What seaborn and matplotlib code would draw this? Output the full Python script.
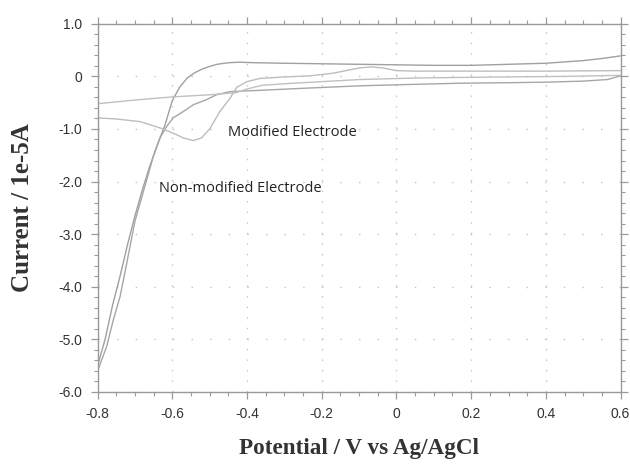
import numpy as np
import pandas as pd
import matplotlib
matplotlib.use("Agg")
import matplotlib.pyplot as plt
from matplotlib.ticker import MultipleLocator, FuncFormatter
import seaborn as sns

# Non-modified electrode, forward sweep (up to plateau)
nm_fwd_x = [-0.80, -0.78, -0.76, -0.74, -0.72, -0.70, -0.68, -0.66, -0.64, -0.62, -0.60, -0.58,
            -0.56, -0.54, -0.52, -0.50, -0.48, -0.45, -0.42, -0.38, -0.30, -0.20, -0.10, 0.00,
            0.10, 0.20, 0.30, 0.40, 0.50, 0.55, 0.60]
nm_fwd_y = [-5.50, -5.00, -4.35, -3.80, -3.20, -2.65, -2.15, -1.70, -1.30, -0.93, -0.46, -0.20,
            -0.03, 0.07, 0.14, 0.19, 0.23, 0.26, 0.27, 0.26, 0.25, 0.24, 0.23, 0.22,
            0.21, 0.21, 0.23, 0.25, 0.30, 0.34, 0.39]
# Non-modified electrode, reverse sweep
nm_rev_x = [0.60, 0.565, 0.50, 0.40, 0.30, 0.17, 0.00, -0.10, -0.26, -0.35, -0.446, -0.482,
            -0.508, -0.544, -0.571, -0.598, -0.615, -0.633, -0.65, -0.67, -0.70, -0.722,
            -0.74, -0.758, -0.776, -0.80]
nm_rev_y = [0.01, -0.06, -0.09, -0.11, -0.12, -0.13, -0.16, -0.18, -0.23, -0.26, -0.29, -0.35,
            -0.44, -0.54, -0.67, -0.79, -0.95, -1.17, -1.50, -2.00, -2.75, -3.55,
            -4.19, -4.63, -5.14, -5.60]
# Modified electrode, forward sweep
m_fwd_x = [-0.80, -0.70, -0.60, -0.50, -0.43, -0.40, -0.36, -0.30, -0.25, -0.20, -0.10, 0.06,
           0.17, 0.30, 0.45, 0.60]
m_fwd_y = [-0.52, -0.45, -0.39, -0.35, -0.31, -0.24, -0.17, -0.14, -0.12, -0.10, -0.06, -0.03,
           -0.02, -0.01, 0.00, 0.02]
# Modified electrode, reverse sweep (with oxidation bump and reduction peak)
m_rev_x = [0.60, 0.40, 0.17, 0.05, 0.00, -0.036, -0.067, -0.10, -0.17, -0.232, -0.30, -0.366,
           -0.40, -0.428, -0.446, -0.473, -0.50, -0.522, -0.544, -0.571, -0.598, -0.633,
           -0.687, -0.75, -0.80]
m_rev_y = [0.11, 0.10, 0.10, 0.10, 0.11, 0.16, 0.18, 0.16, 0.06, 0.01, -0.01, -0.04,
           -0.10, -0.21, -0.42, -0.67, -1.00, -1.17, -1.22, -1.17, -1.08, -0.98,
           -0.86, -0.81, -0.79]

xticks = [-0.8, -0.6, -0.4, -0.2, 0, 0.2, 0.4, 0.6]
yticks = [1.0, 0, -1.0, -2.0, -3.0, -4.0, -5.0, -6.0]

curves = [("nm_fwd", nm_fwd_x, nm_fwd_y), ("nm_rev", nm_rev_x, nm_rev_y),
          ("m_fwd", m_fwd_x, m_fwd_y), ("m_rev", m_rev_x, m_rev_y)]
df = pd.concat([pd.DataFrame({"curve": n, "x": x, "y": y})
                for n, x, y in curves], ignore_index=True)
palette = {"nm_fwd": "#a0a0a0", "nm_rev": "#a6a6a6", "m_fwd": "#c0c0c0", "m_rev": "#bdbdbd"}

sns.set_theme(style="white")
plt.rcParams['font.family'] = ['Liberation Sans', 'DejaVu Sans']

fig = plt.figure(figsize=(6.3, 4.67), dpi=100)
ax = fig.add_axes([0.155, 0.161, 0.830, 0.788])

sns.lineplot(data=df, x="x", y="y", hue="curve", units="curve", estimator=None,
             sort=False, palette=palette, linewidth=1.0, legend=False, ax=ax)

ax.set_xlim(-0.8, 0.6)
ax.set_ylim(-6.0, 1.0)
ax.set_xticks(xticks)
ax.set_yticks(yticks)
ax.xaxis.set_minor_locator(MultipleLocator(0.05))
ax.yaxis.set_minor_locator(MultipleLocator(0.2))
ax.xaxis.set_major_formatter(FuncFormatter(lambda v, p: "0" if abs(v) < 1e-9 else f"{v:.1f}"))
ax.yaxis.set_major_formatter(FuncFormatter(lambda v, p: "0" if abs(v) < 1e-9 else f"{v:.1f}"))

for s in ax.spines.values():
    s.set_visible(True)
    s.set_color("#9a9a9a")
    s.set_linewidth(1.0)

ax.tick_params(which="both", direction="out", colors="#9a9a9a", top=True, right=True,
               bottom=True, left=True, labeltop=False, labelright=False)
ax.tick_params(which="major", length=5, width=0.9, labelsize=10, labelcolor="#333333")
ax.tick_params(which="minor", length=3, width=0.8)
ax.tick_params(axis="x", which="major", pad=6)
ax.tick_params(axis="y", which="major", pad=6)

ax.grid(False)
ax.grid(axis="x", which="major", color="#c4c4c4", linewidth=1.0, linestyle=(0, (1, 6.6)))
ax.grid(axis="y", which="major", color="#c4c4c4", linewidth=1.0, linestyle=(0, (1, 12.4)))

ax.text(-0.451, -1.07, "Modified Electrode", fontsize=10.5, color="#222222",
        family=["Open Sans", "DejaVu Sans"], va="center", ha="left")
ax.text(-0.636, -2.14, "Non-modified Electrode", fontsize=10.5, color="#222222",
        family=["Open Sans", "DejaVu Sans"], va="center", ha="left")

ax.set_xlabel("Potential / V vs Ag/AgCl", fontsize=16.7, fontweight="bold", color="#333333",
              family=["Liberation Serif", "DejaVu Serif"], va="center", ha="center")
ax.xaxis.set_label_coords(0.5, -0.153)
ax.set_ylabel("Current / 1e-5A", fontsize=18, fontweight="bold", color="#333333",
              family=["Liberation Serif", "DejaVu Serif"], va="center", ha="center")
ax.yaxis.set_label_coords(-0.143, 0.5)

fig.savefig("out.png", dpi=100)
